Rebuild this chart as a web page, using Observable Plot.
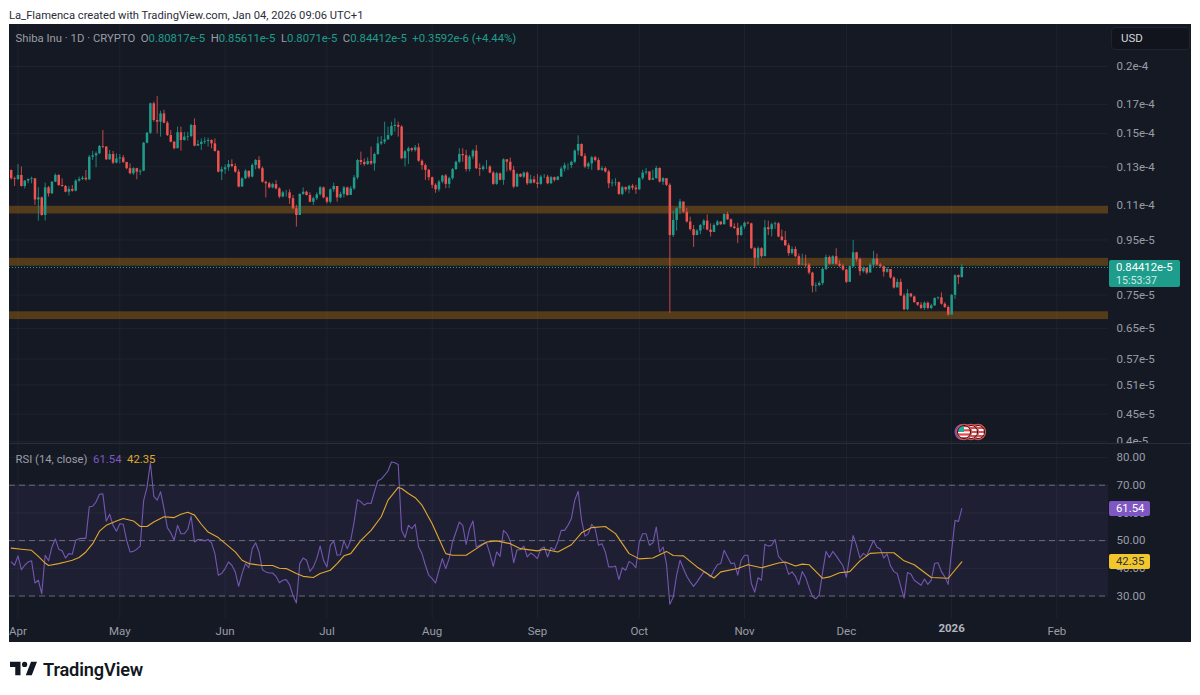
<!DOCTYPE html>
<html><head><meta charset="utf-8">
<script src="https://cdn.jsdelivr.net/npm/d3@7"></script>
<script src="https://cdn.jsdelivr.net/npm/@observablehq/plot@0.6"></script>
<style>
html,body{margin:0;padding:0;background:#fff;font-family:Roboto,"Noto Sans",sans-serif;}
#page{position:relative;width:1200px;height:695px;overflow:hidden;}
#credit{position:absolute;left:9px;top:9px;font-size:11.2px;color:#2a2e39;white-space:nowrap;}
#panel{position:absolute;left:9px;top:24px;width:1182px;height:618px;background:#151924;}
#price,#rsi{position:absolute;left:9px;}
#price{top:24px}#rsi{top:443px}
#price svg,#rsi svg{display:block}
.lg{position:absolute;font-size:11.3px;white-space:nowrap;color:#9a9da6;}
.lg b{font-weight:400;color:#1f9d8c}
#usd{position:absolute;left:1111px;top:27px;width:68px;height:21px;padding-left:9px;line-height:21px;font-size:11.5px;color:#d1d4dc;background:#11141d;border:1px solid #20242f;border-radius:4px;}
.tag{position:absolute;left:1109px;width:34px;padding-left:7px;height:15px;line-height:15px;font-size:11.3px;border-radius:2px;}
#last{position:absolute;left:1109px;top:260px;width:71px;height:27px;background:#1f9d8c;border-radius:2px;color:#fff;font-size:11.3px;padding:1px 0 0 7px;line-height:13px;box-sizing:border-box;}
#last span{display:block;color:#c7ece6;font-size:10.6px}
#sep{position:absolute;left:9px;top:443px;width:1182px;height:1px;background:#2a2e39;}
#brand{position:absolute;left:43px;top:659px;font-size:18.2px;font-weight:600;letter-spacing:-.15px;color:#131722;}
#logo{position:absolute;left:10px;top:660px;}
#flags{position:absolute;left:950px;top:422px;}
</style></head><body>
<div id="page">
<div id="credit">La_Flamenca created with TradingView.com, Jan 04, 2026 09:06 UTC+1</div>
<div id="panel"></div>
<div id="price"></div>
<div id="rsi"></div>
<div id="sep"></div>
<div class="lg" style="left:15.5px;top:32px">Shiba Inu · 1D · CRYPTO&nbsp; O<b>0.80817e-5</b>&nbsp; H<b>0.85611e-5</b>&nbsp; L<b>0.8071e-5</b>&nbsp; C<b>0.84412e-5</b>&nbsp; <b>+0.3592e-6 (+4.44%)</b></div>
<div id="usd">USD</div>
<div id="last">0.84412e-5<span>15:53:37</span></div>
<div class="lg" style="left:15.5px;top:453px">RSI (14, close)&nbsp; <span style="color:#7e57c2">61.54</span>&nbsp; <span style="color:#e0a92e">42.35</span></div>
<div class="tag" style="top:501px;background:#7e57c2;color:#fff">61.54</div>
<div class="tag" style="top:554px;background:#f2c62d;color:#2a2e39">42.35</div>
<svg id="flags" width="42" height="22" viewBox="0 0 42 22">
  <defs><clipPath id="fc"><circle cx="14" cy="10" r="6.5"/></clipPath>
  <clipPath id="fc2"><circle cx="21" cy="10" r="6.5"/></clipPath><clipPath id="fc3"><circle cx="28" cy="10" r="6.5"/></clipPath></defs>
  <circle cx="28" cy="10" r="7.4" fill="#fff" stroke="#e64a4a" stroke-width="1.5"/>
  <g clip-path="url(#fc3)"><rect x="20" y="5" width="16" height="2" fill="#e64a4a"/><rect x="20" y="9" width="16" height="2" fill="#e64a4a"/><rect x="20" y="13" width="16" height="2" fill="#e64a4a"/></g>
  <circle cx="28" cy="10" r="6.5" fill="none" stroke="#131722" stroke-width="1"/>
  <circle cx="21" cy="10" r="7.4" fill="#fff" stroke="#e64a4a" stroke-width="1.5"/>
  <g clip-path="url(#fc2)"><rect x="13" y="5" width="16" height="2" fill="#e64a4a"/><rect x="13" y="9" width="16" height="2" fill="#e64a4a"/><rect x="13" y="13" width="16" height="2" fill="#e64a4a"/></g>
  <circle cx="21" cy="10" r="6.5" fill="none" stroke="#131722" stroke-width="1"/>
  <circle cx="12.5" cy="10" r="7.4" fill="#2d2a5c" stroke="#7e57c2" stroke-width="1.2"/>
  <circle cx="14" cy="10" r="7.4" fill="#fff" stroke="#e64a4a" stroke-width="1.5"/>
  <g clip-path="url(#fc)"><rect x="7" y="3" width="15" height="2.2" fill="#e64a4a"/><rect x="7" y="7.2" width="15" height="2.2" fill="#e64a4a"/><rect x="7" y="11.4" width="15" height="2.2" fill="#e64a4a"/><rect x="7" y="15.2" width="15" height="2.2" fill="#e64a4a"/><rect x="7" y="3" width="7" height="7" fill="#2aa79b"/></g>
  <circle cx="14" cy="10" r="6.5" fill="none" stroke="#131722" stroke-width="1"/>
</svg>
<svg id="logo" width="27" height="17" viewBox="0 0 36 22"><path fill="#131722" d="M14 2H0v7h7v11h7V2Zm15 18h-8l7-18h8l-7 18ZM19.5 9a3.5 3.5 0 1 0 0-7 3.5 3.5 0 0 0 0 7Z"/></svg>
<div id="brand">TradingView</div>
</div>
<script>
// Daily candles, Mar 30 2025 - Jan 4 2026, price in units of 1e-5
const firstDay = "2025-03-30";
const firstOpen = 1.28;
const lastOpen = 0.80817;
const closes = [
1.235,1.231,
1.253,1.195,1.223,1.231,1.235,1.128,1.138,1.055,1.188,1.158,1.217,1.253,1.200,1.195,1.166,1.180,1.171,1.223,1.231,1.238,1.230,1.355,1.363,1.375,1.419,1.415,1.340,1.371,1.321,1.345,
1.351,1.325,1.290,1.262,1.290,1.271,1.276,1.439,1.502,1.704,1.586,1.575,1.632,1.568,1.487,1.445,1.405,1.505,1.456,1.477,1.481,1.553,1.421,1.431,1.445,1.450,1.456,1.435,1.389,1.271,1.284,
1.295,1.313,1.302,1.271,1.192,1.235,1.276,1.244,1.308,1.336,1.290,1.217,1.209,1.188,1.205,1.183,1.142,1.163,1.163,1.134,1.086,1.055,1.155,1.166,1.150,1.117,1.134,1.153,1.188,1.138,
1.117,1.178,1.195,1.138,1.155,1.188,1.150,1.183,1.240,1.336,1.325,1.313,1.330,1.317,1.371,1.435,1.445,1.460,1.487,1.546,1.553,1.542,1.346,1.387,1.405,1.395,1.411,1.332,1.307,1.281,1.241,
1.201,1.178,1.218,1.250,1.206,1.236,1.285,1.326,1.371,1.364,1.285,1.356,1.391,1.290,1.285,1.299,1.299,1.266,1.206,1.262,1.227,1.340,1.326,1.281,1.192,1.258,1.244,1.266,1.209,1.230,1.213,
1.206,1.244,1.244,1.209,1.241,1.227,1.244,1.288,1.307,1.307,1.326,1.391,1.431,1.360,1.299,1.317,1.352,1.336,1.281,1.290,1.272,1.209,1.213,1.215,1.155,1.189,1.178,1.196,1.187,1.178,
1.236,1.266,1.272,1.227,1.236,1.291,1.218,1.236,1.201,0.968,1.033,1.086,1.118,1.070,1.026,0.993,0.968,0.987,1.011,1.030,0.991,0.981,1.011,1.026,1.014,1.060,1.036,1.004,0.998,0.968,1.004,
1.021,1.018,0.915,0.878,0.915,0.884,1.001,0.993,1.014,1.018,0.962,0.948,0.927,0.896,0.912,0.884,0.853,0.856,0.853,0.824,0.779,0.781,0.788,0.837,0.881,0.856,0.884,0.856,0.849,0.835,
0.792,0.847,0.899,0.873,0.829,0.841,0.824,0.853,0.875,0.853,0.847,0.827,0.837,0.807,0.773,0.792,0.747,0.704,0.754,0.744,0.726,0.718,0.708,0.724,0.708,0.716,0.739,0.741,0.721,0.711,0.688,
0.749,0.815,0.808,0.84412];
const highs = [
1.283,1.244,
1.313,1.299,1.226,1.235,1.244,1.237,1.188,1.142,1.212,1.195,1.221,1.262,1.257,1.235,1.200,1.195,1.200,1.230,1.244,1.248,1.280,1.365,1.389,1.385,1.425,1.520,1.419,1.395,1.389,1.375,
1.371,1.365,1.325,1.317,1.295,1.292,1.284,1.443,1.508,1.709,1.717,1.758,1.651,1.658,1.580,1.520,1.450,1.542,1.542,1.508,1.508,1.560,1.598,1.456,1.466,1.473,1.470,1.460,1.466,1.395,1.299,
1.310,1.336,1.340,1.317,1.284,1.240,1.284,1.276,1.317,1.342,1.358,1.299,1.223,1.217,1.212,1.226,1.188,1.171,1.175,1.178,1.150,1.102,1.158,1.188,1.171,1.163,1.142,1.163,1.195,1.192,
1.142,1.183,1.212,1.195,1.166,1.195,1.192,1.195,1.253,1.342,1.385,1.345,1.351,1.415,1.379,1.477,1.481,1.575,1.542,1.575,1.598,1.575,1.552,1.395,1.415,1.411,1.425,1.435,1.340,1.317,1.286,
1.244,1.209,1.227,1.254,1.258,1.244,1.291,1.332,1.405,1.405,1.395,1.366,1.399,1.425,1.317,1.309,1.336,1.307,1.273,1.270,1.266,1.346,1.340,1.350,1.303,1.266,1.262,1.272,1.272,1.254,1.248,
1.258,1.254,1.258,1.254,1.248,1.244,1.248,1.299,1.321,1.317,1.332,1.399,1.485,1.435,1.375,1.326,1.360,1.360,1.350,1.303,1.299,1.281,1.230,1.236,1.218,1.196,1.192,1.201,1.206,1.201,
1.241,1.281,1.291,1.272,1.281,1.303,1.295,1.241,1.230,1.209,1.075,1.091,1.130,1.118,1.088,1.048,1.011,0.993,1.015,1.037,1.058,1.018,1.018,1.033,1.026,1.063,1.070,1.040,1.018,1.021,1.011,
1.026,1.026,1.021,0.919,0.922,0.919,1.033,1.030,1.021,1.026,1.023,0.991,0.985,0.935,0.922,0.922,0.894,0.894,0.890,0.859,0.827,0.790,0.794,0.841,0.890,0.887,0.888,0.915,0.869,0.856,
0.837,0.850,0.948,0.901,0.879,0.847,0.844,0.859,0.905,0.894,0.859,0.849,0.844,0.837,0.811,0.803,0.803,0.754,0.768,0.751,0.747,0.726,0.726,0.728,0.728,0.721,0.741,0.744,0.757,0.726,0.716,
0.752,0.818,0.818,0.85611];
const lows = [
1.229,1.195,
1.226,1.192,1.183,1.209,1.209,1.102,1.030,1.052,1.030,1.142,1.155,1.216,1.195,1.192,1.163,1.147,1.166,1.168,1.217,1.226,1.223,1.226,1.336,1.295,1.371,1.405,1.336,1.336,1.313,1.317,
1.317,1.319,1.284,1.257,1.253,1.230,1.253,1.274,1.435,1.494,1.575,1.498,1.477,1.564,1.481,1.441,1.399,1.411,1.391,1.452,1.452,1.473,1.417,1.421,1.395,1.431,1.415,1.405,1.385,1.267,1.226,
1.259,1.276,1.295,1.265,1.188,1.192,1.230,1.235,1.240,1.284,1.284,1.212,1.138,1.183,1.183,1.178,1.134,1.138,1.142,1.106,1.081,1.004,1.055,1.150,1.147,1.114,1.102,1.125,1.147,1.134,
1.109,1.109,1.166,1.117,1.134,1.138,1.145,1.150,1.175,1.230,1.308,1.302,1.308,1.308,1.276,1.365,1.425,1.431,1.456,1.481,1.509,1.477,1.340,1.299,1.313,1.385,1.385,1.326,1.281,1.227,1.224,
1.184,1.161,1.167,1.209,1.184,1.184,1.227,1.281,1.317,1.326,1.272,1.272,1.340,1.285,1.248,1.277,1.285,1.262,1.201,1.201,1.224,1.201,1.272,1.272,1.184,1.192,1.241,1.236,1.201,1.209,1.209,
1.184,1.201,1.236,1.204,1.206,1.218,1.224,1.243,1.272,1.281,1.290,1.317,1.364,1.356,1.290,1.285,1.281,1.326,1.277,1.275,1.266,1.184,1.192,1.196,1.150,1.148,1.167,1.158,1.175,1.155,
1.175,1.227,1.254,1.224,1.227,1.232,1.213,1.201,1.195,0.694,0.960,0.987,1.060,1.065,1.021,0.987,0.920,0.968,0.972,0.994,0.988,0.962,0.984,1.007,1.011,1.013,1.033,1.000,0.994,0.935,0.965,
0.994,1.014,0.912,0.840,0.850,0.878,0.896,0.968,0.962,0.994,0.959,0.944,0.923,0.886,0.890,0.880,0.850,0.853,0.843,0.818,0.757,0.759,0.777,0.781,0.833,0.853,0.854,0.853,0.843,0.831,
0.788,0.792,0.843,0.864,0.814,0.824,0.818,0.827,0.843,0.849,0.841,0.810,0.824,0.803,0.770,0.777,0.745,0.701,0.701,0.741,0.724,0.714,0.704,0.702,0.704,0.704,0.714,0.734,0.718,0.708,0.685,
0.689,0.736,0.784,0.8071];
const rsiValues = [
42.3,41.1,
44.5,39.5,41.1,42.3,42.7,34.7,35.7,30.8,44.7,42.7,47.7,50.6,46.9,46.3,43.7,45.3,45.1,50.1,50.7,50.8,50.8,62.2,62.4,64,66.7,66.9,57,59.5,55.5,53.4,
56.1,55.9,50.1,45.9,46.1,46.9,48,64.3,69.2,78.1,66,64.6,67.6,61.6,54.7,52.8,50.1,55.5,52.5,52.5,54,58.8,49.5,50.4,50.4,49.9,50.4,49.2,45.3,37.5,38.1,
39.9,42.3,41.1,38.7,33.5,38.1,41.7,40.2,47.1,49.2,45.9,39.5,38.7,38.3,38.3,37.1,34.8,35.7,35.9,34.1,30.2,27.5,41.7,43.7,42.9,38.9,40.5,43.5,48,42.9,
40.5,48.3,49.9,44.7,44.9,49.9,47.1,50.1,56.7,64.8,64,62.8,63.6,63.4,67.6,71.6,72.2,73.6,75.2,78.4,78.1,77.5,53.7,51.1,55.5,54.3,55.9,47.7,45.3,41.1,37.5,
36.3,34.7,39.3,43.5,39.9,43.5,49.5,53.1,56.7,55.5,48.6,54.3,57.1,47.7,48.3,48.9,49.2,45.3,40.7,45.9,44.3,53.7,52.5,49.9,42,46.7,46.7,48,44.1,45.5,44.7,
43.5,47.1,47.7,44.1,47.5,46.5,49.5,53.7,53.7,55.5,58,64.6,67.8,57.3,51.6,52.5,55.9,54.3,48.3,48.9,45.9,40.5,40.5,40.8,35.9,40.2,39.3,42.5,41.7,40.2,
49.5,52.5,52.5,48.3,49.2,54.9,45.9,47.7,41.7,27,29.6,37.5,42.9,39.9,37.1,35.1,33.5,35.1,36.9,38.7,38.1,36.9,39.3,41.3,41.7,46.5,44.1,41.7,41.9,37.5,42.9,
44.7,44.7,34.5,31.4,36.6,35.7,48.7,48,48.3,50.4,44.3,42.9,41.7,37.8,38.7,37.1,34.1,38.8,36.7,33,29.8,29,30.4,38.5,46.1,43.9,46.1,44.5,42.7,40.9,
36.7,44.5,51.8,48.2,43.7,45.4,44.5,47.3,50,47.6,47,43.7,45.2,40.9,38.8,38.1,33.6,29.2,38.5,37.9,35.7,34.8,33.9,36.1,34.2,35.7,41.8,42,38.8,36.9,34.2,
46.4,57.3,56.9,61.54];
// RSI moving average, read at the listed day offsets from firstDay
const maDay = [0,3,6,8,10,11,14,16,18,20,22,24,26,28,31,33,36,38,40,42,45,48,50,52,54,56,58,61,64,66,68,70,74,77,79,81,84,86,89,91,94,96,98,100,103,106,109,111,114,115,117,119,121,124,126,128,130,134,137,140,143,147,150,155,157,161,165,168,171,175,178,182,185,189,193,195,198,202,207,209,214,217,221,226,228,231,233,235,239,241,244,247,250,253,256,260,263,266,271,276,280];
const maValue = [47.3,46.9,46.5,44.3,41.9,41,41.7,42.3,42.9,43.9,45.9,48.9,53.4,55.5,57.1,58,57.1,55.1,55.1,56.7,58.6,58.3,59.5,60.2,59.2,55.9,53.1,51.1,48,45.9,42.9,41.7,41,41,40,39.9,38.1,37.1,36.7,38.1,39.3,41.7,44.5,45.3,50.1,53.7,58.6,64.6,69.2,68.8,67,65.5,62.8,56.1,50.7,45.3,44.7,44.7,47.1,49.5,49.9,48.9,47.1,46.3,46.9,45.9,48.5,52.8,54.7,55.1,52.5,45.3,43.4,43.7,46.1,44.6,44.5,40.5,36.5,38.7,39.9,41.3,40.2,41.9,42.3,40.8,41.5,41.3,36.4,36.9,38.4,38.8,42.7,45.4,45.6,45.6,42.7,41.3,36.7,36.4,42.35];
// Orange support / resistance zones, 1e-5
const zoneLow = [1.062,0.849,0.675];
const zoneHigh = [1.097,0.878,0.698];
const lastClose = 0.84412;
const priceTicks = [2,1.7,1.5,1.3,1.1,0.95,0.85,0.75,0.65,0.57,0.51,0.45,0.4];
const priceTickLabels = ["0.2e-4","0.17e-4","0.15e-4","0.13e-4","0.11e-4","0.95e-5","0.85e-5","0.75e-5","0.65e-5","0.57e-5","0.51e-5","0.45e-5","0.4e-5"];
const rsiTicks = [80,70,60,50,40,30];
const rsiDashed = [70,50,30];
const monthStarts = ["2025-04-01","2025-05-01","2025-06-01","2025-07-01","2025-08-01","2025-09-01","2025-10-01","2025-11-01","2025-12-01","2026-01-01","2026-02-01"];
const monthLabels = ["Apr","May","Jun","Jul","Aug","Sep","Oct","Nov","Dec","2026","Feb"];

const day0 = new Date(firstDay + "T00:00:00Z");
const dayAt = i => new Date(+day0 + i * 864e5);
const xDomain = [new Date("2025-03-29T12:00:00Z"), new Date("2026-02-16T05:00:00Z")];
const months = monthStarts.map(s => new Date(s + "T00:00:00Z"));
const candles = closes.map((c, i) => ({
  date: dayAt(i),
  open: i === 0 ? firstOpen : i === closes.length - 1 ? lastOpen : closes[i - 1],
  close: c, high: highs[i], low: lows[i]
}));
const up = candles.filter(d => d.close >= d.open);
const down = candles.filter(d => d.close < d.open);
const TEAL = "#1f9d8c", RED = "#ef5350";
const W = 1182, RIGHT = 83;
const gridStyle = {stroke: "#fff", strokeOpacity: 0.045};
const chartStyle = {background: "transparent", color: "#9a9da6", fontFamily: "Roboto, sans-serif", fontSize: "11.5px"};

const priceSvg = Plot.plot({
  width: W, height: 419, marginTop: 0, marginBottom: 0, marginLeft: 0, marginRight: RIGHT,
  style: chartStyle,
  x: {type: "utc", domain: xDomain, axis: null},
  y: {type: "log", domain: [0.4, 2], range: [417, 42]},
  marks: [
    Plot.gridX(months, gridStyle),
    Plot.gridY(priceTicks, gridStyle),
    Plot.rect(zoneLow.map((l, i) => ({l, h: zoneHigh[i]})), {x1: () => xDomain[0], x2: () => xDomain[1], y1: "l", y2: "h", fill: "#ff9800", fillOpacity: 0.27}),
    Plot.ruleY([lastClose], {stroke: TEAL, strokeWidth: 1, strokeDasharray: "1,2"}),
    Plot.ruleX(down, {x: "date", y1: "low", y2: "high", stroke: RED, strokeWidth: 1, strokeOpacity: 0.8}),
    Plot.ruleX(up, {x: "date", y1: "low", y2: "high", stroke: TEAL, strokeWidth: 1, strokeOpacity: 0.8}),
    Plot.ruleX(down, {x: "date", y1: "open", y2: "close", stroke: RED, strokeWidth: 2.5}),
    Plot.ruleX(up, {x: "date", y1: "open", y2: "close", stroke: TEAL, strokeWidth: 2.5}),
    Plot.axisY({anchor: "right", ticks: priceTicks, tickFormat: d => priceTickLabels[priceTicks.indexOf(d)], tickSize: 0, tickPadding: 8, label: null})
  ]
});
document.getElementById("price").append(priceSvg);

const rsiPoints = rsiValues.map((v, i) => ({date: dayAt(i), v}));
const maPoints = maDay.map((d, i) => ({date: dayAt(d), v: maValue[i]}));
const rsiSvg = Plot.plot({
  width: W, height: 199, marginTop: 0, marginBottom: 24, marginLeft: 0, marginRight: RIGHT,
  style: chartStyle,
  x: {type: "utc", domain: xDomain},
  y: {domain: [30, 80], range: [152.5, 14]},
  marks: [
    Plot.rect([{a: 30, b: 70}], {x1: () => xDomain[0], x2: () => xDomain[1], y1: "a", y2: "b", fill: "#7e57c2", fillOpacity: 0.1}),
    Plot.gridX(months, gridStyle),
    Plot.gridY(rsiTicks, gridStyle),
    Plot.ruleY(rsiDashed, {stroke: "#9a9da6", strokeOpacity: 0.6, strokeDasharray: "6,4", strokeWidth: 1}),
    Plot.lineY(rsiPoints, {x: "date", y: "v", stroke: "#7357b0", strokeWidth: 1.1, curve: "linear"}),
    Plot.lineY(maPoints, {x: "date", y: "v", stroke: "#e0a92e", strokeWidth: 1.1, curve: "linear"}),
    Plot.axisY({anchor: "right", ticks: rsiTicks, tickFormat: d => d.toFixed(2), tickSize: 0, tickPadding: 8, label: null}),
    Plot.axisX({ticks: months.filter((_, i) => monthLabels[i] !== "2026"), tickFormat: d => monthLabels[months.findIndex(m => +m === +d)], tickSize: 0, tickPadding: 8, label: null}),
    Plot.text(months.filter((_, i) => monthLabels[i] === "2026"), {x: d => d, text: () => "2026", frameAnchor: "bottom", dy: 13, fontWeight: 700, fill: "#b2b5be"})
  ]
});
document.getElementById("rsi").append(rsiSvg);
</script>
</body></html>
